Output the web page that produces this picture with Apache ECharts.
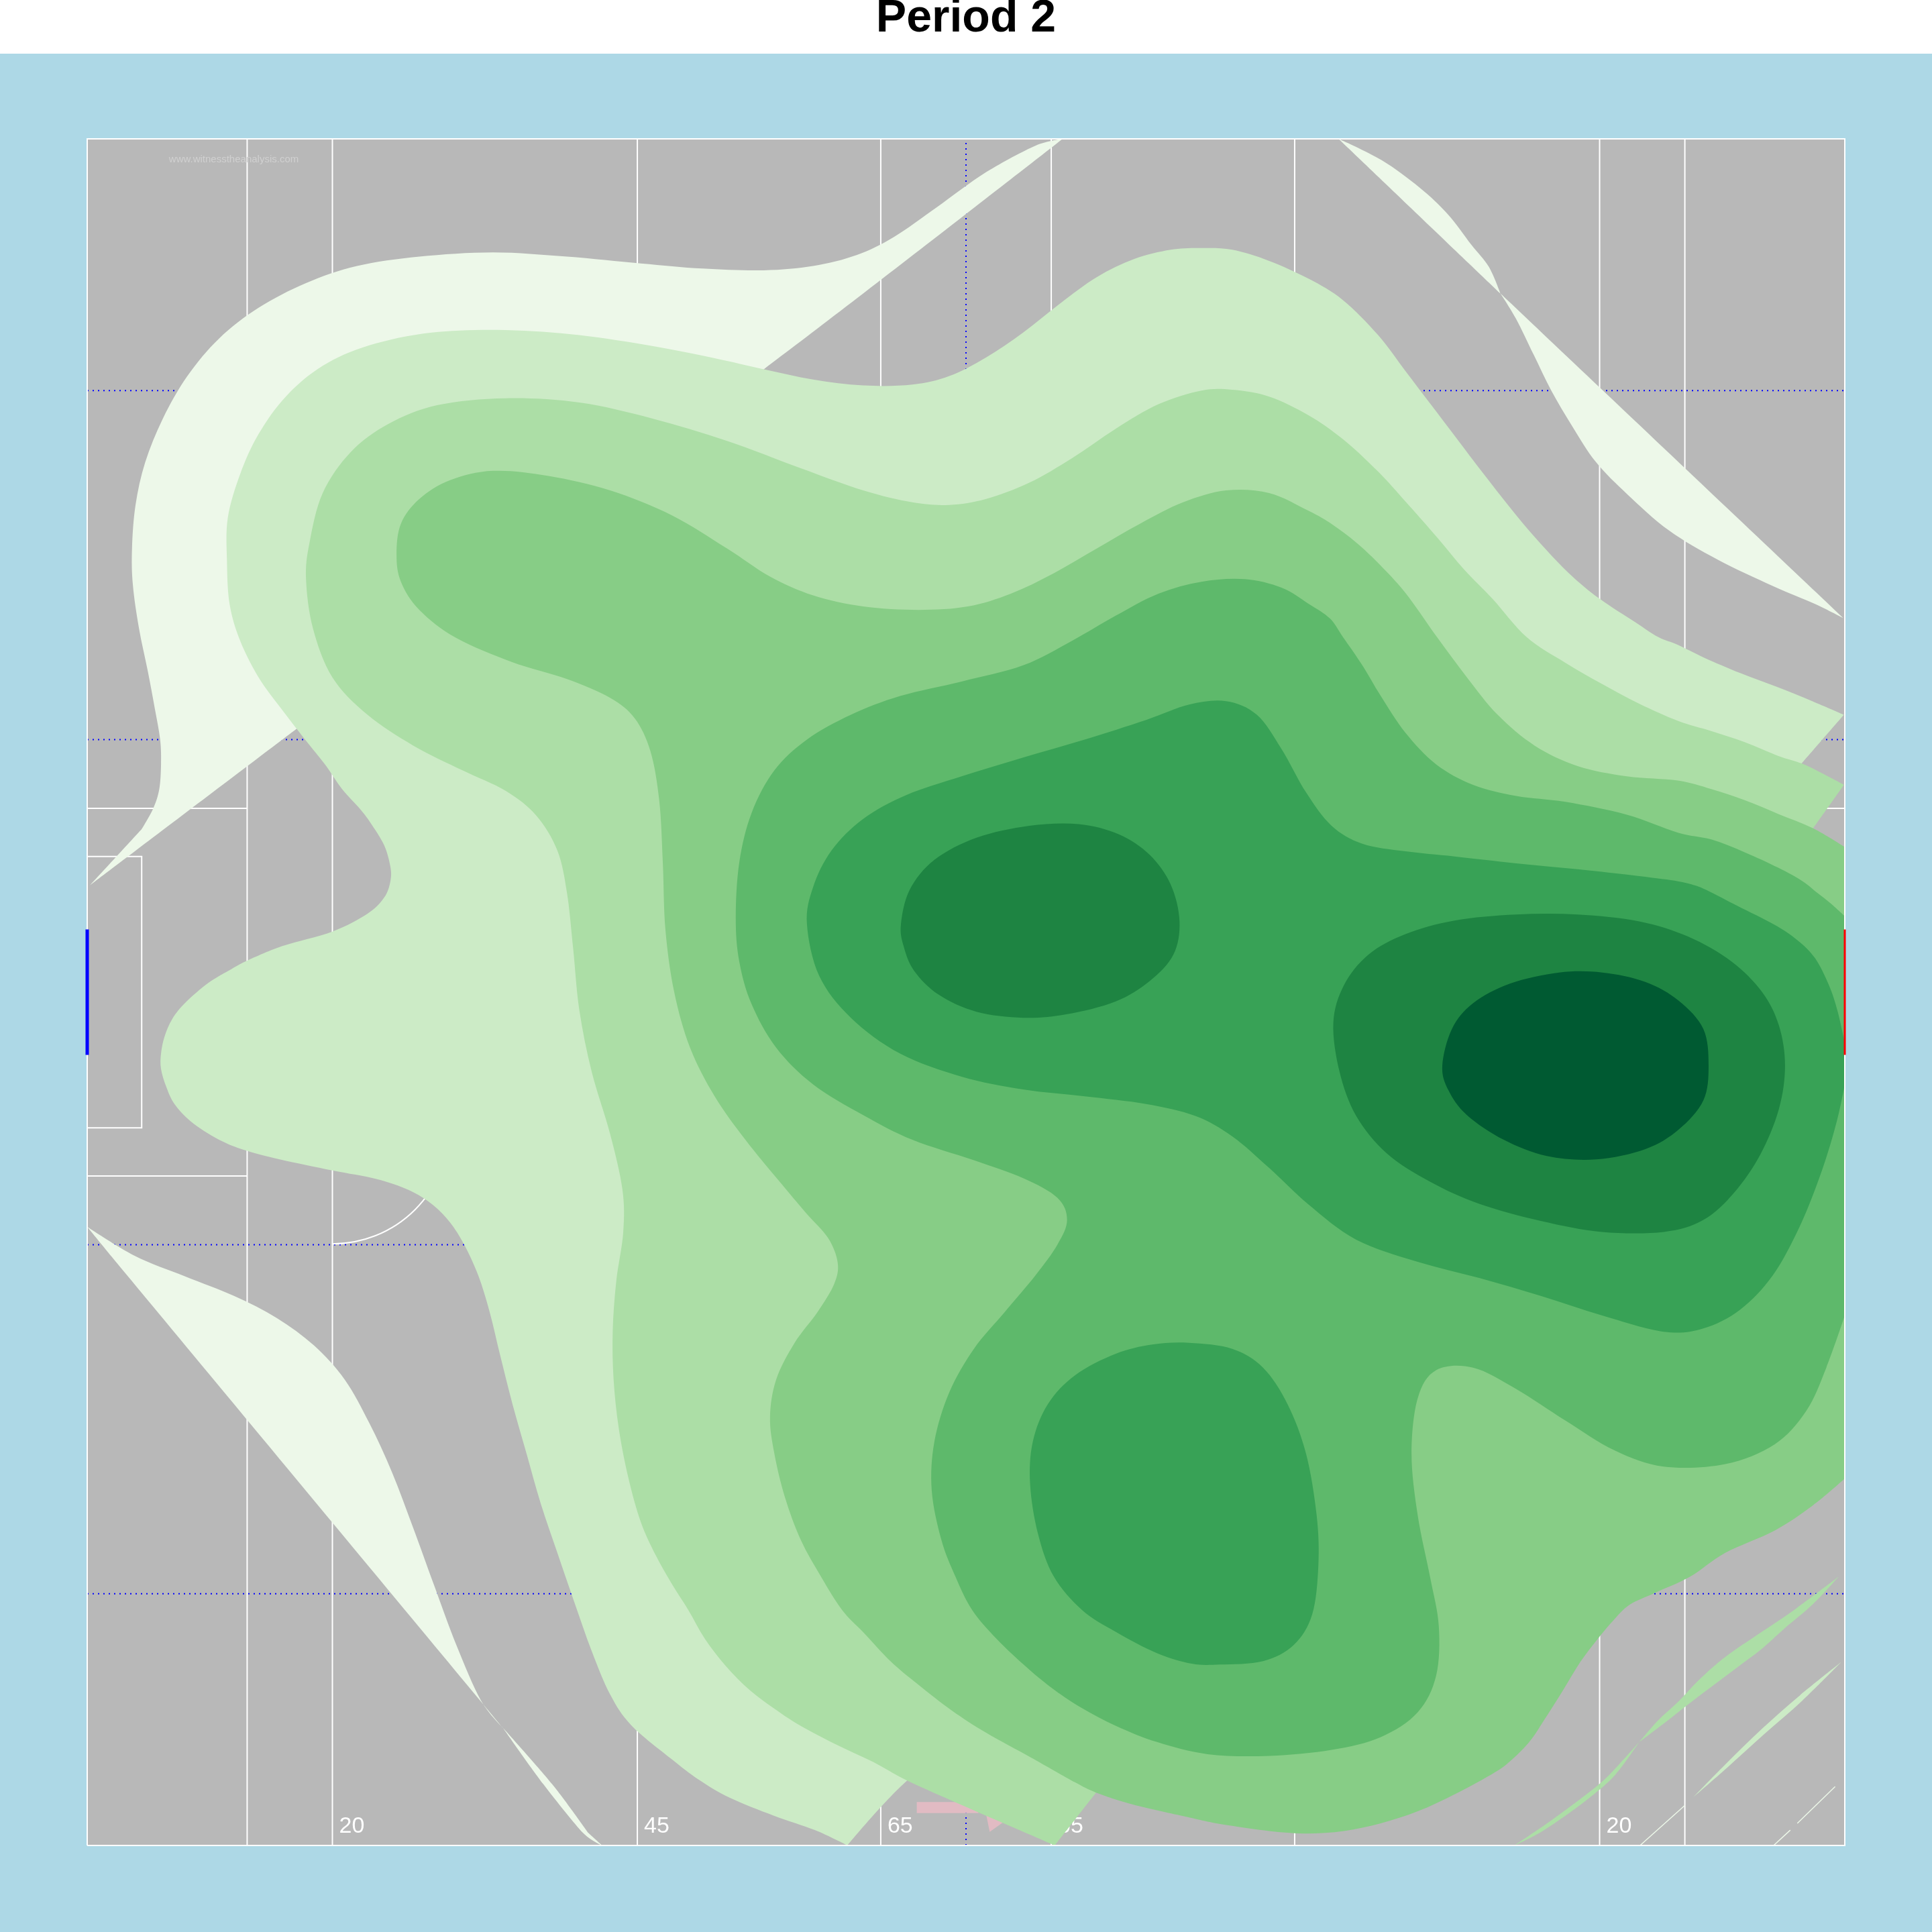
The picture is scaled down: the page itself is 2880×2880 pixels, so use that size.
<!DOCTYPE html>
<html>
<head>
<meta charset="utf-8">
<script src="https://cdn.jsdelivr.net/npm/echarts/dist/echarts.min.js"></script>
<style>
html,body{margin:0;padding:0;background:#ADD8E6;}
#chart{width:2880px;height:2880px;}
</style>
</head>
<body>
<div id="chart"></div>
<script>
// ---------------- DATA (rink coordinates, x and y both span -100..100) ----------------
const titleText = 'Period 2';
const watermarkText = 'www.witnesstheanalysis.com';
const levelColors = ['#EDF8E9','#CCEBC6','#ACDEA6','#87CD86','#5EB96B','#38A256','#1E8442','#005A32'];

// density contour polygons, one list of polygons per level (lowest level first)
const contourL1 = [
  [[-99.7,12.5],[-93.8,19.1],[-92.5,21.5],[-91.8,23.8],[-91.6,26.7],[-91.7,29.6],[-92.3,33.2],[-93.1,37.6],[-94.1,42.6],[-94.8,47.7],[-94.9,52.0],[-94.5,57.1],[-93.4,62.1],[-91.4,67.2],[-88.6,72.2],[-85.0,76.6],[-80.5,80.2],[-75.1,83.1],[-69.3,85.1],[-62.2,86.2],[-53.8,86.7],[-45.4,86.2],[-37.0,85.4],[-30.0,84.8],[-23.0,84.6],[-17.4,85.1],[-12.4,86.4],[-8.2,88.5],[-3.3,92.0],[2.3,96.1],[7.9,99.2],[11.0,100],[-23.0,73.0],[-46.8,55.6],[-67.9,35.4],[-75.1,31.7]],
  [[42.4,100],[47.3,97.5],[51.6,94.3],[54.8,91.2],[57.5,87.6],[59.5,85.0],[60.8,81.9]],
  [[60.8,81.9],[62.6,78.9],[64.6,74.7],[66.6,70.5],[69.0,66.3],[71.7,62.1],[75.3,58.3],[80.0,54.1],[85.5,50.7],[91.8,47.6],[96.6,45.5],[99.9,43.8]],
  [[-100,-27.5],[-94.6,-30.9],[-88.9,-33.3],[-83.3,-35.6],[-78.4,-38.2],[-74.2,-41.4],[-70.7,-45.4],[-67.9,-50.5],[-65.3,-56.3],[-62.9,-62.8],[-60.6,-69.3],[-58.0,-76.5],[-55.2,-83.0],[-52.7,-86.2],[-97.3,-30.9]],
  [[-52.7,-86.2],[-48.1,-92.8],[-43.6,-98.5],[-41.4,-100],[-43.0,-98.5],[-47.1,-92.8]]
];
const contourL1Threads = [
  [[76.7,-100],[81.8,-95.3]],
  [[91.9,-100],[93.8,-98.2]],
  [[94.6,-97.4],[98.9,-93.1]]
];
const contourL2 = [
  [[-13.5,-100],[-17.2,-98.2],[-21.9,-96.5],[-26.9,-94.4],[-30.4,-92.3],[-33.6,-89.8],[-38.1,-85.9],[-40.5,-82.3],[-42.6,-77.2],[-44.6,-71.4],[-46.5,-65.7],[-48.4,-59.9],[-50.0,-54.1],[-51.6,-48.3],[-53.0,-42.6],[-54.2,-37.5],[-55.5,-33.2],[-57.1,-29.6],[-58.7,-27.0],[-60.7,-24.9],[-63.4,-23.2],[-67.1,-21.9],[-72.1,-20.9],[-78.1,-19.6],[-81.8,-18.6],[-84.6,-17.5],[-87.9,-15.4],[-90.0,-13.2],[-91.0,-11.1],[-91.6,-9.0],[-91.6,-7.2],[-91.2,-5.2],[-90.3,-3.1],[-88.8,-1.2],[-86.2,1.1],[-83.6,2.7],[-82.0,3.6],[-77.8,5.4],[-72.1,7.1],[-68.1,9.2],[-66.2,11.1],[-65.5,13.0],[-65.5,14.7],[-66.2,17.2],[-67.6,19.6],[-68.9,21.4],[-71.0,23.8],[-72.8,26.5],[-74.9,29.2],[-77.9,33.2],[-80.5,36.9],[-82.6,41.2],[-83.8,45.5],[-84.1,50.6],[-84.0,55.6],[-82.6,60.7],[-80.5,65.4],[-77.4,69.8],[-73.2,73.4],[-67.9,75.8],[-60.8,77.3],[-52.4,77.6],[-44.0,77.0],[-35.6,75.7],[-28.6,74.3],[-23.0,73.0],[-17.4,71.8],[-11.7,71.1],[-6.1,71.2],[-1.9,72.2],[2.3,74.4],[6.5,77.3],[10.7,80.7],[14.9,83.8],[19.1,85.9],[23.3,87.0],[26.8,87.2],[30.3,87.0],[34.5,85.7],[39.0,83.6],[42.9,81.1],[46.9,77.0],[50.0,72.8],[52.8,69.0],[55.9,64.8],[58.7,61.0],[61.9,56.8],[65.0,53.0],[68.6,49.1],[72.1,46.1],[76.1,43.4],[78.8,41.6],[81.0,40.7],[84.0,39.2],[88.1,37.4],[92.2,35.8],[96.3,34.1],[99.9,32.5],[95.1,26.8],[86.4,0.8],[30.3,-56.9],[2.3,-85.5],[-6.7,-92.4]],
  [[82.7,-94.4],[86.4,-90.5],[90.6,-86.3],[94.9,-82.4],[99.6,-78.5],[95.2,-83.0],[90.9,-86.9],[86.6,-90.9]]
];
const contourL3 = [
  [[-75.1,48.4],[-74.7,52.7],[-73.2,58.5],[-70.0,63.3],[-65.7,66.6],[-60.1,68.8],[-52.4,69.6],[-44.0,69.1],[-35.6,67.2],[-27.2,64.6],[-18.8,61.4],[-11.7,58.8],[-6.1,57.4],[-1.9,57.1],[2.3,57.8],[7.2,59.7],[12.1,62.6],[17.0,66.0],[21.9,68.9],[26.8,70.5],[30.3,70.6],[34.5,69.8],[39.0,67.6],[42.9,64.8],[46.9,61.0],[50.0,57.5],[53.6,53.3],[56.7,49.5],[59.9,46.1],[63.8,41.6],[68.2,38.6],[72.4,36.1],[76.6,33.8],[81.0,31.8],[84.8,30.6],[88.6,29.3],[92.4,27.7],[95.1,26.8],[97.5,25.6],[99.9,24.3],[96.4,19.2],[86.4,-6.5],[44.4,-64.2],[14.8,-93.8],[10.1,-100],[5.4,-97.9],[-0.4,-95.3],[-6.7,-92.4],[-10.6,-90.2],[-14.9,-88.1],[-19.1,-85.8],[-21.9,-83.9],[-24.6,-81.8],[-27.3,-79.0],[-29.7,-75.8],[-31.6,-72.4],[-33.5,-69.3],[-35.3,-66.0],[-37.0,-62.1],[-38.4,-57.0],[-39.5,-51.2],[-40.1,-45.4],[-40.2,-39.7],[-39.8,-33.9],[-39.0,-28.1],[-39.1,-23.1],[-40.5,-16.6],[-42.6,-9.3],[-44.0,-2.1],[-44.7,5.1],[-45.4,11.6],[-46.5,16.6],[-48.9,20.7],[-52.4,23.6],[-57.3,26.0],[-62.9,28.9],[-68.1,32.5],[-72.1,36.9],[-74.3,42.6]],
  [[62.4,-100],[66.4,-97.2],[69.6,-94.8],[72.3,-92.6],[74.4,-90.4],[76.6,-87.9],[73.9,-91.7],[71.2,-94.2],[68.5,-96.3],[65.3,-98.5]],
  [[76.6,-87.9],[78.7,-85.4],[81.1,-83.1],[83.5,-80.5],[86.4,-77.9],[90.5,-75.0],[94.5,-72.2],[99.3,-68.5],[96.4,-71.7],[93.1,-74.6],[90.5,-77.0],[87.8,-79.1],[85.1,-81.2],[82.4,-83.3],[79.8,-85.4]]
];
const contourL4 = [
  [[-64.8,51.3],[-64.3,54.9],[-62.2,57.8],[-58.7,60.0],[-53.8,61.1],[-47.5,60.5],[-40.5,58.8],[-33.5,55.9],[-27.2,52.0],[-22.3,48.7],[-17.4,46.5],[-11.7,45.2],[-5.4,44.8],[0.2,45.2],[5.1,46.7],[10.0,49.1],[14.9,52.0],[19.8,54.9],[24.7,57.4],[29.6,58.8],[34.5,58.5],[39.0,56.4],[41.7,54.8],[44.4,52.7],[46.9,50.3],[50.0,46.8],[53.6,41.6],[57.0,36.9],[60.5,32.5],[64.7,28.9],[69.6,26.5],[75.2,25.3],[81.0,24.8],[84.8,23.8],[88.6,22.5],[92.4,20.9],[96.4,19.2],[100,17.0],[100,-57.0],[96.3,-60.2],[92.0,-63.1],[86.4,-65.7],[82.4,-68.5],[78.4,-70.4],[75.5,-71.8],[73.6,-73.7],[71.8,-75.9],[69.9,-78.5],[68.0,-81.7],[66.1,-84.8],[64.0,-88.0],[61.6,-90.4],[59.4,-91.9],[55.6,-94.0],[51.4,-96.0],[47.2,-97.4],[43.0,-98.3],[38.7,-98.6],[34.5,-98.3],[30.3,-97.7],[27.5,-97.2],[24.9,-96.6],[19.0,-95.2],[14.8,-93.8],[12.4,-92.6],[7.4,-89.7],[2.3,-86.8],[-1.6,-84.2],[-5.5,-81.1],[-8.6,-78.4],[-11.7,-75.0],[-14.1,-72.4],[-16.5,-68.5],[-18.8,-64.2],[-20.6,-59.2],[-21.8,-54.1],[-22.3,-49.8],[-21.6,-45.4],[-19.5,-41.1],[-16.9,-37.5],[-15.0,-34.2],[-14.6,-31.7],[-15.7,-28.8],[-18.1,-26.0],[-21.3,-22.1],[-25.1,-17.3],[-28.6,-12.2],[-31.4,-6.5],[-33.2,0.0],[-34.2,7.3],[-34.5,15.2],[-34.9,22.4],[-35.9,28.2],[-37.7,32.1],[-40.5,34.5],[-45.4,36.7],[-51.7,38.7],[-58.0,41.5],[-62.2,44.8],[-64.3,48.1]]
];
const contourL5 = [
  [[-26.2,8.7],[-25.8,15.2],[-24.4,21.0],[-21.8,26.0],[-18.1,29.6],[-13.1,32.5],[-7.5,34.7],[-0.5,36.4],[6.5,38.3],[12.1,41.2],[17.0,44.1],[21.9,46.7],[26.8,48.1],[31.7,48.4],[35.9,47.4],[39.0,45.5],[41.4,43.8],[42.9,41.6],[45.1,38.3],[47.2,34.7],[50.0,30.4],[53.5,26.7],[57.7,24.3],[62.6,23.0],[68.2,22.3],[75.2,20.8],[81.0,18.7],[84.8,17.9],[88.6,16.4],[92.4,14.6],[95.2,13.0],[96.8,11.7],[98.4,10.4],[100,8.9],[100,-37.9],[97.9,-44.0],[95.6,-49.1],[92.0,-53.0],[86.4,-55.3],[79.4,-55.6],[73.8,-53.7],[68.2,-50.2],[62.6,-46.5],[57.7,-44.0],[53.5,-44.3],[51.4,-47.6],[50.7,-54.1],[51.4,-61.3],[52.8,-68.5],[53.8,-74.3],[53.5,-80.1],[51.4,-84.4],[47.2,-87.3],[41.6,-88.8],[34.5,-89.5],[27.5,-89.3],[21.8,-87.9],[17.1,-86.0],[13.2,-83.9],[10.1,-81.8],[7.0,-79.2],[3.5,-75.8],[0.7,-72.4],[-1.2,-68.5],[-2.8,-64.2],[-3.9,-58.4],[-3.6,-52.7],[-1.9,-46.9],[0.9,-41.8],[4.4,-37.5],[7.9,-33.2],[10.4,-29.6],[11.5,-26.7],[10.4,-24.1],[6.5,-21.8],[0.9,-19.7],[-6.1,-17.3],[-11.7,-14.4],[-17.4,-10.8],[-21.6,-6.5],[-24.4,-1.4],[-25.8,3.6]]
];
const contourL6 = [
  [[-18.1,8.0],[-17.4,12.3],[-15.3,16.6],[-11.7,20.3],[-6.8,23.1],[-0.5,25.3],[6.5,27.5],[13.5,29.6],[20.5,31.9],[25.4,33.7],[29.6,34.1],[33.1,32.5],[35.9,28.5],[38.7,23.4],[41.6,19.5],[45.1,17.4],[50.0,16.5],[55.6,15.9],[62.6,15.1],[69.6,14.4],[76.6,13.6],[81.0,13.0],[83.0,12.5],[84.8,11.7],[87.8,10.1],[92.0,7.9],[94.6,6.1],[96.6,4.0],[98.2,0.8],[99.2,-2.3],[100,-6.0],[100,-10.8],[99.1,-15.1],[97.4,-20.9],[94.9,-27.4],[91.8,-33.2],[88.1,-37.2],[83.9,-39.4],[79.4,-39.8],[72.4,-37.9],[65.4,-35.6],[58.4,-33.5],[51.4,-31.6],[44.4,-29.0],[39.0,-24.9],[34.5,-20.6],[30.3,-16.9],[26.1,-14.5],[20.5,-13.1],[13.5,-12.2],[6.5,-11.4],[-0.5,-9.9],[-7.5,-7.2],[-13.1,-3.0],[-16.7,1.9]],
  [[25.4,-41.1],[30.3,-41.8],[33.8,-44.0],[36.6,-48.3],[38.7,-54.1],[39.9,-61.3],[40.1,-67.1],[39.4,-72.9],[37.3,-76.5],[33.8,-78.4],[28.9,-78.8],[25.7,-78.7],[21.8,-77.5],[17.1,-75.0],[13.2,-72.4],[10.0,-68.5],[8.2,-63.5],[7.3,-57.7],[7.6,-52.7],[9.3,-48.3],[12.4,-44.9],[17.0,-42.4],[21.2,-41.3]]
];
const contourL7 = [
  [[-7.4,8.0],[-6.4,12.0],[-3.6,15.5],[1.2,18.1],[7.2,19.5],[12.8,19.7],[17.4,18.5],[20.9,16.1],[23.3,12.6],[24.3,8.3],[23.6,4.4],[20.9,1.3],[17.0,-1.1],[11.4,-2.6],[6.5,-3.0],[1.2,-2.3],[-3.1,-0.3],[-5.9,2.5],[-7.1,5.4]],
  [[41.8,-3.6],[43.0,0.8],[45.8,4.4],[50.0,6.8],[55.6,8.4],[62.6,9.1],[69.6,9.1],[76.6,8.3],[82.2,6.5],[87.1,3.6],[90.6,0.0],[92.5,-3.9],[93.2,-8.6],[92.5,-13.7],[90.4,-19.0],[87.4,-23.5],[83.9,-26.7],[79.4,-28.1],[72.4,-28.1],[65.4,-26.8],[58.4,-24.8],[52.8,-22.2],[47.9,-18.9],[44.4,-14.5],[42.5,-9.3]]
];
const contourL8 = [
  [[54.2,-8.6],[55.3,-4.3],[57.7,-1.3],[61.9,1.0],[67.5,2.3],[72.4,2.3],[77.3,1.2],[81.1,-1.0],[83.9,-4.3],[84.5,-8.6],[83.9,-12.7],[81.1,-16.1],[77.3,-18.4],[71.7,-19.6],[66.1,-19.2],[61.2,-17.3],[57.0,-14.4],[54.9,-11.5]]
];

// rink markings (rink coordinates)
const rinkLineX = [-81.8, -72.1, -37.4, -9.7, 9.7, 37.4, 72.1, 81.8];
const rinkDottedY = [70.5, 29.6, -29.6, -70.5];
const rinkCenterX = [0];
const goalLineX = 81.8;
const creaseY = [21.55, -21.55];
const goalBoxX = 93.8;
const goalBoxY = 15.9;
const goalMouthY = 7.35;
const circleCenters = [[-72.1, -15.8], [72.1, -15.8]];
const circleRadius = 13.3;
const distLabelX = [-72.1, -37.4, -9.7, 9.7, 37.4, 72.1];
const distLabelText = ['20', '45', '65', '65', '45', '20'];
const distLabelY = -97.8;
const watermarkPos = [-90.7, 97.6];
const arrowShaft = [[-5.6,-94.9],[1.4,-94.9],[1.4,-96.2],[-5.6,-96.2]];
const arrowHead = [[1.7,-93.4],[6.8,-95.4],[2.7,-98.4]];

// ---------------- RENDERING ----------------
const FONT = '"Liberation Sans", Arial, Helvetica, sans-serif';

// closed shape drawn as a smooth curve through its vertices; sharp vertices stay sharp
let smoothType = 'polygon';
if (echarts.graphic && echarts.graphic.extendShape && echarts.graphic.registerShape) {
  const SmoothPoly = echarts.graphic.extendShape({
    type: 'smoothPoly',
    shape: {points: [], corners: []},
    buildPath: function (ctx, shape) {
      const P = shape.points, C = shape.corners || [], n = P.length;
      if (!n) return;
      const T = [];
      for (let i = 0; i < n; i++) {
        const a = P[(i - 1 + n) % n], b = P[i], c = P[(i + 1) % n];
        const v1x = b[0] - a[0], v1y = b[1] - a[1], v2x = c[0] - b[0], v2y = c[1] - b[1];
        const l1 = Math.hypot(v1x, v1y), l2 = Math.hypot(v2x, v2y);
        const cos = (v1x * v2x + v1y * v2y) / ((l1 * l2) || 1);
        const ratio = Math.max(l1, l2) / (Math.min(l1, l2) || 1);
        if (C[i] || cos < 0.5 || ratio > 3) { T.push([0, 0]); continue; }
        let tx = (c[0] - a[0]) / 6, ty = (c[1] - a[1]) / 6;
        const tl = Math.hypot(tx, ty), maxL = 0.45 * Math.min(l1, l2);
        if (tl > maxL && tl > 0) { tx *= maxL / tl; ty *= maxL / tl; }
        T.push([tx, ty]);
      }
      ctx.moveTo(P[0][0], P[0][1]);
      for (let i = 0; i < n; i++) {
        const j = (i + 1) % n;
        ctx.bezierCurveTo(P[i][0] + T[i][0], P[i][1] + T[i][1], P[j][0] - T[j][0], P[j][1] - T[j][1], P[j][0], P[j][1]);
      }
      ctx.closePath();
    }
  });
  echarts.graphic.registerShape('smoothPoly', SmoothPoly);
  smoothType = 'smoothPoly';
}

const chart = echarts.init(document.getElementById('chart'), null, {renderer: 'canvas', width: 2880, height: 2880});

function polygonSeries(polys, color, smooth) {
  return {
    type: 'custom', coordinateSystem: 'cartesian2d', silent: true, clip: true,
    dimensions: ['x', 'y', 'idx'], encode: {x: 0, y: 1},
    data: polys.map((p, i) => [p[0][0], p[0][1], i]),
    renderItem: function (params, api) {
      const poly = polys[api.value(2)];
      const pts = poly.map(pt => api.coord(pt));
      if (smooth && smoothType === 'smoothPoly') {
        const corners = poly.map(pt => Math.abs(pt[0]) >= 99.85 || Math.abs(pt[1]) >= 99.85);
        return {type: 'smoothPoly', shape: {points: pts, corners: corners}, style: {fill: color}};
      }
      return {type: 'polygon', shape: {points: pts}, style: {fill: color}};
    }
  };
}
function polylineSeries(lines, style, clip) {
  return {
    type: 'custom', coordinateSystem: 'cartesian2d', silent: true, clip: !!clip,
    dimensions: ['x', 'y', 'idx'], encode: {x: 0, y: 1},
    data: lines.map((l, i) => [l[0][0], l[0][1], i]),
    renderItem: function (params, api) {
      const l = lines[api.value(2)];
      return {type: 'polyline', shape: {points: l.map(pt => api.coord(pt))}, style: Object.assign({fill: null}, style)};
    }
  };
}

// build rink segments from the rink arrays
const whiteSegments = [];
rinkLineX.forEach(x => whiteSegments.push([[x, -100], [x, 100]]));
[-1, 1].forEach(s => {
  creaseY.forEach(y => whiteSegments.push([[s * 100, y], [s * goalLineX, y]]));
  whiteSegments.push([[s * 100, goalBoxY], [s * goalBoxX, goalBoxY], [s * goalBoxX, -goalBoxY], [s * 100, -goalBoxY]]);
});
const dottedSegments = [];
rinkDottedY.forEach(y => dottedSegments.push([[-100, y], [100, y]]));
rinkCenterX.forEach(x => dottedSegments.push([[x, -100], [x, 100]]));

const series = [];
series.push(polylineSeries(whiteSegments, {stroke: '#FFFFFF', lineWidth: 2}, true));
series.push(polylineSeries(dottedSegments, {stroke: '#0000FF', lineWidth: 2, lineDash: [2, 6]}, true));
series.push({
  type: 'custom', coordinateSystem: 'cartesian2d', silent: true, clip: true,
  dimensions: ['x', 'y'], encode: {x: 0, y: 1},
  data: circleCenters,
  renderItem: function (params, api) {
    const c = api.coord([api.value(0), api.value(1)]);
    const r = api.size([circleRadius, 0])[0];
    const left = api.value(0) < 0;
    return {type: 'arc', shape: {cx: c[0], cy: c[1], r: r,
      startAngle: left ? 0 : Math.PI / 2, endAngle: left ? Math.PI / 2 : Math.PI, clockwise: true},
      style: {stroke: '#FFFFFF', lineWidth: 2, fill: null}};
  }
});
series.push({
  type: 'custom', coordinateSystem: 'cartesian2d', silent: true, clip: false,
  dimensions: ['x', 'y'], encode: {x: 0, y: 1},
  data: distLabelX.map(x => [x, distLabelY]),
  renderItem: function (params, api) {
    const p = api.coord([api.value(0), api.value(1)]);
    return {type: 'text', x: p[0] + 10, y: p[1],
      style: {text: distLabelText[params.dataIndex], fill: '#FFFFFF', font: '34px ' + FONT, align: 'left', verticalAlign: 'middle'}};
  }
});
series.push({
  type: 'custom', coordinateSystem: 'cartesian2d', silent: true, clip: false,
  dimensions: ['x', 'y'], encode: {x: 0, y: 1},
  data: [watermarkPos],
  renderItem: function (params, api) {
    const p = api.coord([api.value(0), api.value(1)]);
    return {type: 'text', x: p[0], y: p[1],
      style: {text: watermarkText, fill: '#D0D0D0', font: '15px ' + FONT, align: 'left', verticalAlign: 'middle'}};
  }
});
series.push(polygonSeries([arrowShaft, arrowHead], '#E1BBC3', false));

const contours = [contourL1, contourL2, contourL3, contourL4, contourL5, contourL6, contourL7, contourL8];
contours.forEach((polys, k) => {
  series.push(polygonSeries(polys, levelColors[k], true));
  if (k === 0) series.push(polylineSeries(contourL1Threads, {stroke: levelColors[0], lineWidth: 1.5}, true));
});

// rink border, then goal mouths on top
series.push(polylineSeries([[[-100, -100], [100, -100], [100, 100], [-100, 100], [-100, -100]]], {stroke: '#FFFFFF', lineWidth: 2}, false));
series.push(polylineSeries([[[-100, goalMouthY], [-100, -goalMouthY]]], {stroke: '#0000FF', lineWidth: 5}, false));
series.push(polylineSeries([[[100, goalMouthY], [100, -goalMouthY]]], {stroke: '#FF0000', lineWidth: 3}, false));

chart.setOption({
  backgroundColor: '#ADD8E6',
  animation: false,
  graphic: [
    {type: 'rect', left: 0, top: 0, z: -10, shape: {width: 2880, height: 80}, style: {fill: '#FFFFFF'}},
    {type: 'text', x: 1440, y: 28, style: {text: titleText, font: 'bold 68px ' + FONT, fill: '#000000', align: 'center', verticalAlign: 'middle'}}
  ],
  grid: {left: 130, top: 207, right: 130, bottom: 129, show: true, backgroundColor: '#B8B8B8', borderWidth: 0},
  xAxis: {type: 'value', min: -100, max: 100, show: false},
  yAxis: {type: 'value', min: -100, max: 100, show: false},
  series: series
});
</script>
</body>
</html>
